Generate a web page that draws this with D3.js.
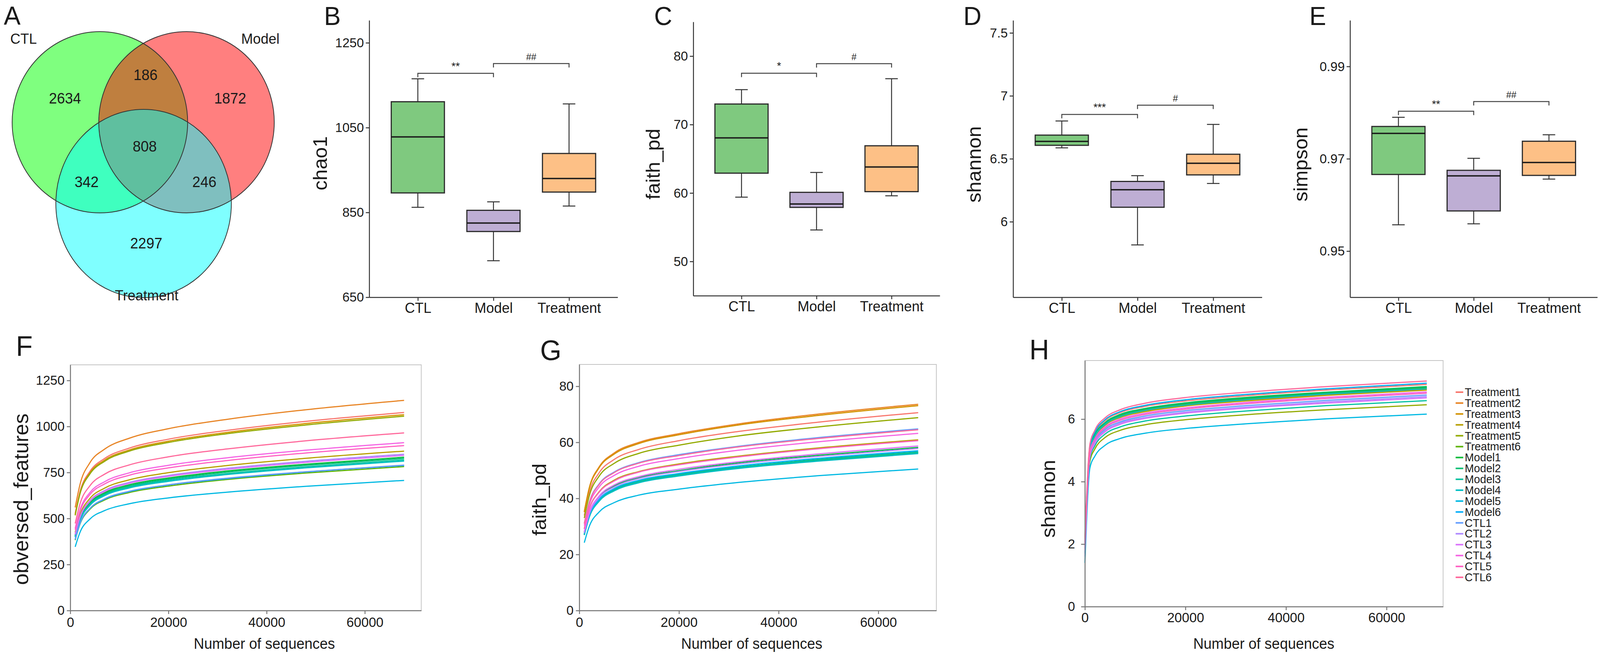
<!DOCTYPE html>
<html><head><meta charset="utf-8">
<script src="https://cdn.jsdelivr.net/npm/d3@7"></script>
<style>
html,body{margin:0;padding:0;width:100%;height:100%;overflow:hidden;background:#fff}
svg{display:block;width:100vw;height:100vh}
text{font-family:"Liberation Sans",Arial,Helvetica,sans-serif;fill:#1a1a1a}
</style></head><body>
<svg id="chart" viewBox="0 0 4212 1682" preserveAspectRatio="none"></svg>
<script>
// ---------------- DATA ----------------
const vennSets = ["CTL", "Model", "Treatment"];
// regions: CTL only, Model only, Treatment only, CTL∩Model, CTL∩Treatment, Model∩Treatment, all three
const vennRegions = ["C", "M", "T", "CM", "CT", "MT", "CMT"];
const vennCounts = [2634, 1872, 2297, 186, 342, 246, 808];

const groups = ["CTL", "Model", "Treatment"];
// box stats: [lower whisker, Q1, median, Q3, upper whisker]
const chao1Stats = [[862, 896, 1028, 1111, 1165], [736, 805, 825, 855, 875], [865, 898, 930, 989, 1106]];
const faithStats = [[59.4, 62.9, 68.05, 73.0, 75.1], [54.6, 57.9, 58.4, 60.1, 63.0], [59.6, 60.2, 63.8, 66.9, 76.7]];
const shannonStats = [[6.587, 6.607, 6.638, 6.688, 6.80], [5.816, 6.115, 6.254, 6.32, 6.366], [6.304, 6.372, 6.464, 6.536, 6.773]];
const simpsonStats = [[0.9557, 0.9666, 0.9755, 0.9770, 0.9790], [0.9559, 0.9587, 0.9663, 0.9675, 0.9701], [0.9656, 0.9664, 0.9692, 0.9738, 0.9752]];

const chao1Sig = [{a: 0, b: 1, y: 1178, label: "**"}, {a: 1, b: 2, y: 1201, label: "##"}];
const faithSig = [{a: 0, b: 1, y: 77.5, label: "*"}, {a: 1, b: 2, y: 78.9, label: "#"}];
const shannonSig = [{a: 0, b: 1, y: 6.852, label: "***"}, {a: 1, b: 2, y: 6.926, label: "#"}];
const simpsonSig = [{a: 0, b: 1, y: 0.9803, label: "**"}, {a: 1, b: 2, y: 0.9824, label: "##"}];

const chao1Ticks = [650, 850, 1050, 1250];
const faithTicks = [50, 60, 70, 80];
const shannonTicks = [6, 6.5, 7, 7.5];
const simpsonTicks = [0.95, 0.97, 0.99];

const sampleNames = ["Treatment1", "Treatment2", "Treatment3", "Treatment4", "Treatment5", "Treatment6",
  "Model1", "Model2", "Model3", "Model4", "Model5", "Model6",
  "CTL1", "CTL2", "CTL3", "CTL4", "CTL5", "CTL6"];

const depthsFG = [1000, 2000, 4000, 7000, 12000, 20000, 32000, 48000, 68000];
const depthsH = [10, 1000, 2000, 4000, 7000, 12000, 20000, 32000, 48000, 68000];

const observedFeatures = [
  [527, 648, 756, 826, 882, 931, 979, 1028, 1076],
  [560, 687, 803, 877, 936, 988, 1039, 1091, 1142],
  [521, 641, 748, 817, 872, 920, 968, 1016, 1064],
  [424, 521, 609, 665, 710, 749, 788, 827, 866],
  [517, 636, 742, 811, 866, 913, 961, 1008, 1056],
  [383, 471, 550, 601, 641, 676, 712, 747, 782],
  [408, 501, 586, 640, 683, 720, 758, 795, 833],
  [405, 497, 581, 634, 677, 714, 752, 789, 826],
  [401, 492, 575, 628, 671, 708, 744, 781, 818],
  [398, 489, 571, 624, 666, 702, 739, 775, 812],
  [346, 426, 497, 543, 580, 612, 643, 675, 707],
  [386, 474, 554, 605, 646, 682, 717, 753, 788],
  [387, 476, 555, 607, 648, 683, 719, 754, 790],
  [416, 511, 597, 652, 696, 734, 773, 811, 849],
  [413, 507, 593, 647, 691, 729, 767, 805, 843],
  [447, 549, 641, 700, 748, 789, 830, 871, 912],
  [439, 539, 630, 688, 735, 775, 815, 856, 896],
  [473, 581, 678, 741, 791, 835, 878, 922, 965]
];
const faithCurves = [
  [33.9, 42.0, 49.2, 53.9, 57.5, 60.6, 63.9, 67.2, 70.6],
  [35.3, 43.8, 51.3, 56.2, 60.0, 63.1, 66.6, 70.1, 73.6],
  [35.1, 43.5, 51.0, 55.8, 59.6, 62.7, 66.2, 69.6, 73.1],
  [29.2, 36.2, 42.4, 46.5, 49.6, 52.3, 55.1, 58.0, 60.9],
  [33.0, 40.9, 48.0, 52.5, 56.1, 59.0, 62.3, 65.5, 68.8],
  [27.0, 33.4, 39.2, 42.9, 45.8, 48.2, 50.9, 53.5, 56.2],
  [27.9, 34.6, 40.6, 44.4, 47.4, 49.9, 52.7, 55.4, 58.2],
  [27.2, 33.7, 39.5, 43.2, 46.1, 48.6, 51.2, 53.9, 56.6],
  [27.1, 33.6, 39.3, 43.0, 46.0, 48.4, 51.0, 53.7, 56.4],
  [26.9, 33.3, 39.0, 42.7, 45.6, 48.0, 50.7, 53.3, 56.0],
  [24.2, 30.0, 35.2, 38.5, 41.2, 43.3, 45.7, 48.1, 50.5],
  [27.4, 33.9, 39.7, 43.5, 46.5, 48.9, 51.6, 54.3, 57.0],
  [31.1, 38.6, 45.2, 49.4, 52.8, 55.6, 58.6, 61.7, 64.8],
  [27.7, 34.4, 40.3, 44.1, 47.1, 49.6, 52.3, 55.0, 57.8],
  [28.2, 34.9, 40.9, 44.8, 47.8, 50.4, 53.1, 55.9, 58.7],
  [30.3, 37.6, 44.1, 48.2, 51.5, 54.2, 57.2, 60.2, 63.2],
  [29.1, 36.1, 42.2, 46.2, 49.4, 52.0, 54.8, 57.7, 60.6],
  [31.0, 38.4, 45.0, 49.2, 52.6, 55.3, 58.4, 61.4, 64.5]
];
const shannonCurves = [
  [2.1, 5.12, 5.56, 5.95, 6.21, 6.41, 6.58, 6.75, 6.93, 7.11],
  [2.0, 5.00, 5.43, 5.82, 6.07, 6.26, 6.44, 6.60, 6.78, 6.95],
  [1.9, 5.03, 5.46, 5.84, 6.09, 6.29, 6.46, 6.63, 6.81, 6.98],
  [2.0, 4.99, 5.42, 5.80, 6.05, 6.24, 6.42, 6.58, 6.76, 6.93],
  [1.8, 4.65, 5.05, 5.41, 5.64, 5.82, 5.98, 6.14, 6.30, 6.46],
  [1.9, 5.04, 5.47, 5.86, 6.11, 6.31, 6.48, 6.65, 6.83, 7.00],
  [2.0, 5.07, 5.51, 5.89, 6.15, 6.34, 6.52, 6.69, 6.86, 7.04],
  [1.9, 5.05, 5.49, 5.88, 6.13, 6.33, 6.50, 6.67, 6.84, 7.02],
  [1.8, 4.74, 5.15, 5.52, 5.75, 5.94, 6.10, 6.26, 6.43, 6.59],
  [1.9, 5.02, 5.45, 5.83, 6.08, 6.28, 6.45, 6.62, 6.80, 6.97],
  [1.4, 4.44, 4.82, 5.16, 5.38, 5.55, 5.70, 5.85, 6.01, 6.16],
  [1.7, 5.15, 5.59, 5.98, 6.24, 6.44, 6.62, 6.79, 6.97, 7.15],
  [1.6, 4.87, 5.29, 5.67, 5.91, 6.10, 6.27, 6.43, 6.60, 6.77],
  [1.8, 4.84, 5.26, 5.62, 5.87, 6.05, 6.22, 6.38, 6.55, 6.72],
  [1.9, 4.81, 5.22, 5.59, 5.83, 6.02, 6.19, 6.35, 6.51, 6.68],
  [2.0, 4.95, 5.37, 5.75, 6.00, 6.19, 6.36, 6.53, 6.70, 6.87],
  [2.1, 4.92, 5.34, 5.72, 5.96, 6.15, 6.32, 6.49, 6.66, 6.83],
  [2.2, 5.20, 5.65, 6.04, 6.30, 6.51, 6.69, 6.86, 7.04, 7.22]
];
const depthTicks = [0, 20000, 40000, 60000];
const featuresTicks = [0, 250, 500, 750, 1000, 1250];
const faithCurveTicks = [0, 20, 40, 60, 80];
const shannonCurveTicks = [0, 2, 4, 6];

// ---------------- STYLE HELPERS ----------------
const svg = d3.select("#chart");
const FONT = '"Liberation Sans",Arial,Helvetica,sans-serif';
const boxColors = ["#7fc97f", "#beaed4", "#fdc086"];

// ggplot-style hue palette (polar LUV)
function hclLuv(h, c, l) {
  const hr = h * Math.PI / 180, U = c * Math.cos(hr), V = c * Math.sin(hr);
  const Xn = 95.047, Yn = 100, Zn = 108.883;
  const den = Xn + 15 * Yn + 3 * Zn, un = 4 * Xn / den, vn = 9 * Yn / den;
  const Y = l > 8 ? Yn * Math.pow((l + 16) / 116, 3) : Yn * l / 903.3;
  const u = U / (13 * l) + un, v = V / (13 * l) + vn;
  const X = 9 * Y * u / (4 * v), Z = 3 * Y / v - X / 3 - 5 * Y;
  const x = X / 100, y = Y / 100, z = Z / 100;
  const lin = [3.2404542 * x - 1.5371385 * y - 0.4985314 * z,
    -0.9692660 * x + 1.8760108 * y + 0.0415560 * z,
    0.0556434 * x - 0.2040259 * y + 1.0572252 * z];
  const g = lin.map(t => { t = Math.max(0, Math.min(1, t)); return Math.round(255 * (t <= 0.0031308 ? 12.92 * t : 1.055 * Math.pow(t, 1 / 2.4) - 0.055)); });
  return d3.rgb(g[0], g[1], g[2]).formatHex();
}
const lineColors = sampleNames.map((_, i) => hclLuv(15 + i * 360 / sampleNames.length, 100, 65));

function panelLetter(t, x, y, size) {
  svg.append("text").attr("x", x).attr("y", y).attr("font-size", size).text(t);
}
function yTitle(t, x, y, size) {
  svg.append("text").attr("x", x).attr("y", y).attr("font-size", size)
    .attr("text-anchor", "middle").attr("transform", `rotate(-90,${x},${y})`).text(t);
}
function styleAxis(g, color, width, fs) {
  g.select(".domain").attr("stroke", color).attr("stroke-width", width);
  g.selectAll(".tick line").attr("stroke", color).attr("stroke-width", width);
  g.selectAll(".tick text").attr("font-size", fs).attr("font-family", FONT).attr("fill", "#1a1a1a");
}

// ---------------- PANEL A : VENN ----------------
(function () {
  const circles = [
    {cx: 263, cy: 313, rx: 231, ry: 232, fill: "#00ff00"},
    {cx: 491, cy: 313, rx: 231, ry: 232, fill: "#ff0000"},
    {cx: 378, cy: 521, rx: 231, ry: 241, fill: "#00ffff"}
  ];
  svg.append("g").selectAll("ellipse").data(circles).join("ellipse")
    .attr("cx", d => d.cx).attr("cy", d => d.cy).attr("rx", d => d.rx).attr("ry", d => d.ry)
    .attr("fill", d => d.fill).attr("fill-opacity", 0.5);
  svg.append("g").selectAll("ellipse").data(circles).join("ellipse")
    .attr("cx", d => d.cx).attr("cy", d => d.cy).attr("rx", d => d.rx).attr("ry", d => d.ry)
    .attr("fill", "none").attr("stroke", "#333").attr("stroke-width", 2);
  const regionPos = {C: [171, 251], M: [606, 251], T: [385, 622], CM: [383, 191], CT: [228, 465], MT: [538, 465], CMT: [381, 374]};
  svg.append("g").selectAll("text").data(vennRegions).join("text")
    .attr("x", d => regionPos[d][0]).attr("y", d => regionPos[d][1] + 14)
    .attr("text-anchor", "middle").attr("font-size", 38)
    .text((d, i) => vennCounts[i]);
  const setPos = [[27, 112, "start"], [635, 112, "start"], [386, 769, "middle"]];
  svg.append("g").selectAll("text").data(vennSets).join("text")
    .attr("x", (d, i) => setPos[i][0]).attr("y", (d, i) => setPos[i][1])
    .attr("text-anchor", (d, i) => setPos[i][2]).attr("font-size", 37).text(d => d);
  panelLetter("A", 10, 63, 66);
})();

// ---------------- PANELS B-E : BOXPLOTS ----------------
function boxPanel(o) {
  const x = d3.scalePoint().domain(groups).range([o.x0, o.x1]).padding(0.643);
  const y = d3.scaleLinear().domain(o.domain).range([o.y0, o.y1]);
  const g = svg.append("g");
  const ya = g.append("g").attr("transform", `translate(${o.x0},0)`)
    .call(d3.axisLeft(y).tickValues(o.ticks).tickSize(9).tickSizeOuter(0).tickPadding(5).tickFormat(d3.format("")));
  styleAxis(ya, "#333", 2.5, 34);
  const xa = g.append("g").attr("transform", `translate(0,${o.y0})`)
    .call(d3.axisBottom(x).tickSize(9).tickSizeOuter(0).tickPadding(5));
  styleAxis(xa, "#333", 2.5, 37);
  const hw = 70, cw = 16.5;
  const bx = g.append("g").selectAll("g").data(o.stats).join("g");
  bx.append("line").attr("x1", (d, i) => x(groups[i])).attr("x2", (d, i) => x(groups[i]))
    .attr("y1", d => y(d[0])).attr("y2", d => y(d[4])).attr("stroke", "#333").attr("stroke-width", 2.5);
  bx.append("line").attr("x1", (d, i) => x(groups[i]) - cw).attr("x2", (d, i) => x(groups[i]) + cw)
    .attr("y1", d => y(d[0])).attr("y2", d => y(d[0])).attr("stroke", "#333").attr("stroke-width", 2.5);
  bx.append("line").attr("x1", (d, i) => x(groups[i]) - cw).attr("x2", (d, i) => x(groups[i]) + cw)
    .attr("y1", d => y(d[4])).attr("y2", d => y(d[4])).attr("stroke", "#333").attr("stroke-width", 2.5);
  bx.append("rect").attr("x", (d, i) => x(groups[i]) - hw).attr("width", hw * 2)
    .attr("y", d => y(d[3])).attr("height", d => y(d[1]) - y(d[3]))
    .attr("fill", (d, i) => boxColors[i]).attr("stroke", "#2b2b2b").attr("stroke-width", 3);
  bx.append("line").attr("x1", (d, i) => x(groups[i]) - hw).attr("x2", (d, i) => x(groups[i]) + hw)
    .attr("y1", d => y(d[2])).attr("y2", d => y(d[2])).attr("stroke", "#1a1a1a").attr("stroke-width", 3.5);
  const sg = g.append("g").selectAll("g").data(o.sig).join("g");
  sg.append("path").attr("d", d => {
    const xa = x(groups[d.a]), xb = x(groups[d.b]), yy = y(d.y);
    return `M${xa},${yy + 10}V${yy}H${xb}V${yy + 10}`;
  }).attr("fill", "none").attr("stroke", "#444").attr("stroke-width", 2.5);
  sg.append("text").attr("x", d => (x(groups[d.a]) + x(groups[d.b])) / 2).attr("y", d => y(d.y) - 9)
    .attr("text-anchor", "middle").attr("font-size", d => d.label.includes("*") ? 28 : 24).text(d => d.label);
  yTitle(o.title, o.tx, o.ty, 51);
  panelLetter(o.letter, o.lx, 64, 66);
}
boxPanel({x0: 972, x1: 1626, y0: 761, y1: 52, domain: [650, 1303], ticks: chao1Ticks, stats: chao1Stats, sig: chao1Sig, title: "chao1", tx: 861, ty: 418, letter: "B", lx: 853});
boxPanel({x0: 1825, x1: 2474, y0: 757, y1: 56, domain: [45, 85], ticks: faithTicks, stats: faithStats, sig: faithSig, title: "faith_pd", tx: 1737, ty: 420, letter: "C", lx: 1722});
boxPanel({x0: 2667, x1: 3322, y0: 761, y1: 52, domain: [5.4, 7.6], ticks: shannonTicks, stats: shannonStats, sig: shannonSig, title: "shannon", tx: 2582, ty: 421, letter: "D", lx: 2536});
boxPanel({x0: 3554, x1: 4205, y0: 761, y1: 52, domain: [0.94, 1.0], ticks: simpsonTicks, stats: simpsonStats, sig: simpsonSig, title: "simpson", tx: 3442, ty: 421, letter: "E", lx: 3447});

// ---------------- PANELS F-H : RAREFACTION ----------------
function curvePanel(o) {
  const x = d3.scaleLinear().domain(o.xdomain).range([o.x0, o.x1]);
  const y = d3.scaleLinear().domain(o.ydomain).range([o.y0, o.y1]);
  const g = svg.append("g");
  g.append("rect").attr("x", o.x0).attr("y", o.y1).attr("width", o.x1 - o.x0).attr("height", o.y0 - o.y1)
    .attr("fill", "#fff").attr("stroke", "#c4c4c4").attr("stroke-width", 2);
  const line = d3.line().x((d, i) => x(o.depths[i])).y(d => y(d)).curve(d3.curveMonotoneX);
  g.append("g").selectAll("path").data(o.curves).join("path")
    .attr("d", line).attr("fill", "none").attr("stroke", (d, i) => lineColors[i]).attr("stroke-width", 3);
  const ya = g.append("g").attr("transform", `translate(${o.x0},0)`)
    .call(d3.axisLeft(y).tickValues(o.yticks).tickFormat(d3.format("d")).tickSize(o.ytick || 9).tickSizeOuter(0).tickPadding(o.ypad || 6));
  styleAxis(ya, "#777", 2.5, 34);
  const xa = g.append("g").attr("transform", `translate(0,${o.y0})`)
    .call(d3.axisBottom(x).tickValues(depthTicks).tickFormat(d3.format("d")).tickSize(9).tickSizeOuter(0).tickPadding(o.xpad || 8));
  styleAxis(xa, "#777", 2.5, 35);
  g.append("text").attr("x", o.xtx).attr("y", 1661).attr("text-anchor", "middle").attr("font-size", 38).text("Number of sequences");
  yTitle(o.title, o.tx, o.ty, o.tsize || 52);
  panelLetter(o.letter, o.lx, o.ly, 72);
}
curvePanel({x0: 185, x1: 1109, y0: 1563, y1: 934, xdomain: [0, 71500], ydomain: [0, 1335], depths: depthsFG, curves: observedFeatures,
  yticks: featuresTicks, title: "obversed_features", tx: 74, ty: 1278, tsize: 53, xtx: 696, letter: "F", lx: 42, ly: 911});
curvePanel({x0: 1525, x1: 2465, y0: 1563, y1: 933, xdomain: [0, 71650], ydomain: [0, 87.8], depths: depthsFG, curves: faithCurves,
  yticks: faithCurveTicks, title: "faith_pd", tx: 1438, ty: 1279, xtx: 1979, letter: "G", lx: 1422, ly: 922});
curvePanel({x0: 2856, x1: 3799, y0: 1553, y1: 923, xdomain: [0, 71250], ydomain: [0, 7.875], depths: depthsH, curves: shannonCurves,
  yticks: shannonCurveTicks, ytick: 10, ypad: 16, xpad: 6, title: "shannon", tx: 2778, ty: 1277, xtx: 3327, letter: "H", lx: 2710, ly: 920});

// legend for H
(function () {
  const ly = d3.scalePoint().domain(sampleNames).range([1004, 1478]);
  const lg = svg.append("g").selectAll("g").data(sampleNames).join("g");
  lg.append("line").attr("x1", 3832).attr("x2", 3852).attr("y1", d => ly(d)).attr("y2", d => ly(d))
    .attr("stroke", (d, i) => lineColors[i]).attr("stroke-width", 4);
  lg.append("text").attr("x", 3856).attr("y", d => ly(d) + 10).attr("font-size", 29).text(d => d);
})();
</script>
</body></html>
